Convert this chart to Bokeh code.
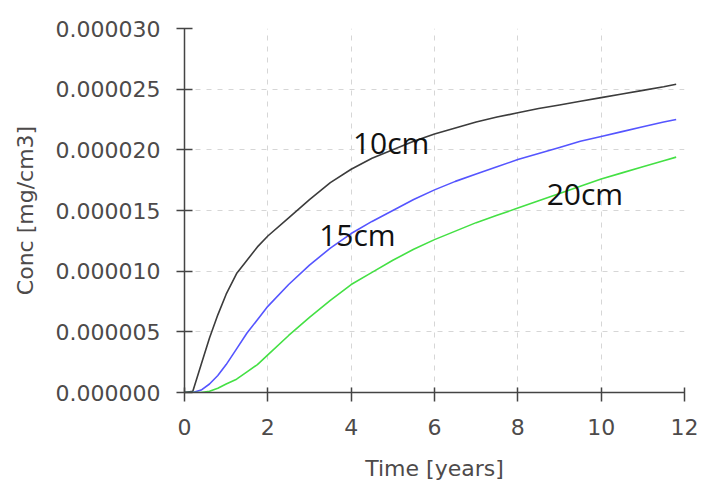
from bokeh.plotting import figure
from bokeh.models import FixedTicker, PrintfTickFormatter, ColumnDataSource, Range1d
from bokeh.core.properties import value
from bokeh.embed import file_html
from bokeh.resources import INLINE

time_years = [0.0, 0.2, 0.4, 0.6, 0.8, 1.0, 1.25, 1.5, 1.75, 2.0, 2.5, 3.0, 3.5, 4.0, 4.5,
              5.0, 5.5, 6.0, 6.5, 7.0, 7.5, 8.0, 8.5, 9.0, 9.5, 10.0, 10.5, 11.0, 11.5, 11.8]
conc_10cm = [0.0, 0.1, 2.3, 4.5, 6.4, 8.1, 9.8, 10.9, 12.0, 12.9, 14.4, 15.9, 17.3, 18.4, 19.3,
             20.0, 20.7, 21.3, 21.8, 22.3, 22.7, 23.05, 23.4, 23.7, 24.0, 24.3, 24.6, 24.9, 25.2, 25.4]
conc_15cm = [0.0, 0.0, 0.2, 0.7, 1.4, 2.3, 3.6, 4.9, 6.0, 7.1, 8.9, 10.5, 11.9, 13.1, 14.1,
             15.0, 15.9, 16.7, 17.4, 18.0, 18.6, 19.2, 19.7, 20.2, 20.7, 21.1, 21.5, 21.9, 22.3, 22.5]
conc_20cm = [0.0, 0.0, 0.0, 0.1, 0.35, 0.7, 1.1, 1.7, 2.3, 3.1, 4.7, 6.2, 7.6, 8.9, 9.9,
             10.9, 11.8, 12.6, 13.3, 14.0, 14.6, 15.2, 15.8, 16.4, 17.0, 17.6, 18.1, 18.6, 19.1, 19.4]
scale = 1e-6

series_names = ["10cm", "15cm", "20cm"]
series_colors = ["#3c3c3c", "#5555ff", "#44e044"]

label_text = ["10cm", "15cm", "20cm"]
label_t = [4.96, 4.15, 9.61]
label_c = [20.6, 13.0, 16.4]

x_ticks = [0, 2, 4, 6, 8, 10, 12]
y_ticks = [0.0, 5e-6, 10e-6, 15e-6, 20e-6, 25e-6, 30e-6]

p = figure(width=701, height=486, output_backend="svg", toolbar_location=None,
           x_range=Range1d(0, 12), y_range=Range1d(0, 3e-5),
           min_border_left=184, min_border_right=17, min_border_top=28, min_border_bottom=94)
p.outline_line_color = None
p.background_fill_color = "white"
p.border_fill_color = "white"

for vals, col in zip([conc_10cm, conc_15cm, conc_20cm], series_colors):
    p.line(time_years, [v * scale for v in vals], line_color=col, line_width=1.6)

src = ColumnDataSource(dict(x=label_t, y=[v * scale for v in label_c], t=label_text))
p.text(x="x", y="y", text="t", source=src, text_align="center", text_baseline="middle",
       text_font=value("Open Sans"), text_font_size="30px", text_color="#111111")

for ax in (p.xaxis, p.yaxis):
    ax.axis_line_color = "#444444"
    ax.axis_line_width = 1.5
    ax.major_tick_line_color = "#444444"
    ax.major_tick_line_width = 1.5
    ax.minor_tick_line_color = None
    ax.major_label_text_font = "DejaVu Sans"
    ax.major_label_text_font_size = "22px"
    ax.major_label_text_color = "#4d4a4a"
    ax.axis_label_text_font = "DejaVu Sans"
    ax.axis_label_text_font_size = "22px"
    ax.axis_label_text_font_style = "normal"
    ax.axis_label_text_color = "#4d4a4a"

p.xaxis.ticker = FixedTicker(ticks=x_ticks)
p.yaxis.ticker = FixedTicker(ticks=y_ticks)
p.yaxis.formatter = PrintfTickFormatter(format="%.6f")
p.xaxis.axis_label = "Time [years]"
p.yaxis.axis_label = "Conc [mg/cm3]"
p.xaxis.major_tick_in = 5
p.xaxis.major_tick_out = 9
p.yaxis.major_tick_in = 8
p.yaxis.major_tick_out = 8
p.yaxis.major_label_standoff = 16
p.xaxis.major_label_standoff = 17
p.yaxis.axis_label_standoff = 15
p.xaxis.axis_label_standoff = 18

for g in (p.xgrid, p.ygrid):
    g.grid_line_color = "#d6d6d6"
    g.grid_line_dash = "5 6"
    g.grid_line_width = 1

open("out.html", "w").write(file_html(p, INLINE))
